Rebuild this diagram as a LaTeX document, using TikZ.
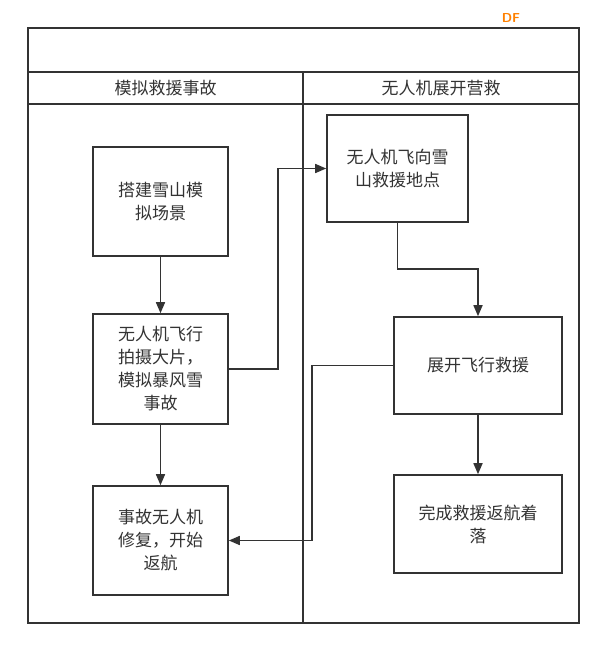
\documentclass[tikz,border=0pt]{standalone}
\usepackage{fontspec}
\newfontfamily\cjk{Noto Sans CJK SC}
\usetikzlibrary{arrows.meta}
\definecolor{linegray}{HTML}{333333}
\begin{document}
\begin{tikzpicture}[x=1pt, y=-1pt,
        every node/.style={font=\cjk\fontsize{17}{23}\selectfont, text=linegray},
        stepbox/.style={draw=linegray, line width=1.6pt, fill=white, align=center, inner sep=0pt},
        flow/.style={draw=linegray, line width=1.6pt, -{Triangle[length=11pt, width=9pt]}},
        lane/.style={draw=linegray, line width=1.6pt}
    ]
        \useasboundingbox (0,0) rectangle (607,652);

        % Rahmen und Bahnen
        \draw[lane] (28,28) rectangle (579,623);
        \draw[lane] (28,72) -- (579,72);
        \draw[lane] (28,104) -- (579,104);
        \draw[lane] (303,72) -- (303,623);
        \node (lane1) at (165.5,88) {模拟救援事故};
        \node (lane2) at (441,88) {无人机展开营救};
        \node[font=\sffamily\bfseries\fontsize{13}{13}\selectfont, text=orange] (logo) at (511,18) {DF};

        % Schritte
        \node[stepbox, minimum width=135, minimum height=109] (build) at (160.5,201.5) {搭建雪山模\\拟场景};
        \node[stepbox, minimum width=135, minimum height=110] (shoot) at (160.5,369) {无人机飞行\\拍摄大片，\\模拟暴风雪\\事故};
        \node[stepbox, minimum width=135, minimum height=109] (repair) at (160.5,540.5) {事故无人机\\修复，开始\\返航};
        \node[stepbox, minimum width=141, minimum height=107] (fly) at (397.5,168.5) {无人机飞向雪\\山救援地点};
        \node[stepbox, minimum width=168, minimum height=97] (rescue) at (478,365.5) {展开飞行救援};
        \node[stepbox, minimum width=168, minimum height=98] (finish) at (478,524) {完成救援返航着\\落};

        % Verbindungen
        \draw[flow] (build) -- (shoot);
        \draw[flow] (shoot) -- (repair);
        \draw[flow] (shoot.east) -- ++(49,0) |- (fly.west);
        \draw[flow] (fly.south) -- ++(0,46) -| (rescue.north);
        \draw[flow] (rescue.west) -- ++(-81,0) |- (repair.east);
        \draw[flow] (rescue) -- (finish);

    \end{tikzpicture}
\end{document}
